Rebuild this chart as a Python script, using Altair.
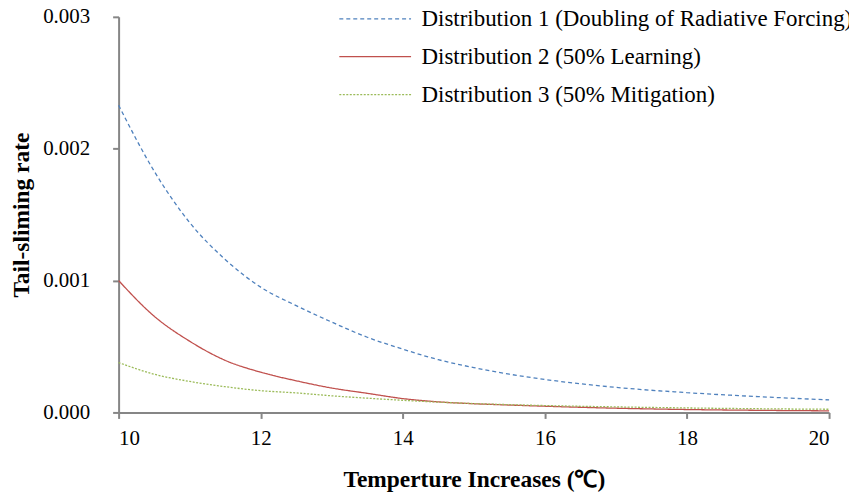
import altair as alt
import pandas as pd

temps = [10, 10.5, 11, 11.5, 12, 12.5, 13, 13.5, 14, 14.5, 15, 15.5, 16, 17, 18, 19, 20]
dist1 = [0.00233, 0.00183, 0.00144, 0.00116, 0.00095, 0.00081, 0.000685, 0.00057, 0.00048,
         0.00040, 0.00034, 0.00029, 0.00025, 0.00019, 0.00015, 0.00012, 0.000095]
dist2 = [0.00100, 0.00073, 0.00054, 0.000395, 0.000305, 0.00024, 0.000185, 0.000145, 0.000105,
         0.000080, 0.000066, 0.000056, 0.000047, 0.000032, 0.000022, 0.000016, 0.000012]
dist3 = [0.000378, 0.00029, 0.000235, 0.000195, 0.000165, 0.000148, 0.000126, 0.000108, 0.000092,
         0.000078, 0.000067, 0.000059, 0.000052, 0.000042, 0.000034, 0.000028, 0.000024]

names = ["Distribution 1 (Doubling of Radiative Forcing)",
         "Distribution 2 (50% Learning)",
         "Distribution 3 (50% Mitigation)"]
colors = ["#4F81BD", "#C0504D", "#9BBB59"]
dashes = [[4, 3], [1, 0], [2, 1.5]]
x_ticks = [10, 12, 14, 16, 18, 20]
y_ticks = [0.000, 0.001, 0.002, 0.003]

rows = []
for name, series in zip(names, [dist1, dist2, dist3]):
    for t, v in zip(temps, series):
        rows.append({"Temperature": t, "Rate": v, "Series": name})
df = pd.DataFrame(rows)

FONT = "Liberation Serif"

chart = alt.Chart(df).mark_line(strokeWidth=1.3, interpolate="monotone").encode(
    x=alt.X("Temperature:Q",
            scale=alt.Scale(domain=[10, 20], nice=False, zero=False),
            axis=alt.Axis(values=x_ticks, format="d", title="Temperture Increases (℃)",
                          labelPadding=9, titlePadding=19, tickSize=6)),
    y=alt.Y("Rate:Q",
            scale=alt.Scale(domain=[0, 0.003], nice=False),
            axis=alt.Axis(values=y_ticks, format=".3f", title="Tail-sliming rate",
                          labelPadding=23, titlePadding=9, tickSize=6)),
    color=alt.Color("Series:N", scale=alt.Scale(domain=names, range=colors),
                    legend=alt.Legend(title=None, orient="none", legendX=246, legendY=-9.5,
                                      direction="vertical", symbolType="M-6,0H6",
                                      symbolSize=144, symbolStrokeWidth=1.3,
                                      labelOffset=35, rowPadding=14, padding=0,
                                      labelFont=FONT, labelFontSize=23, labelColor="#000000",
                                      labelLimit=600)),
    strokeDash=alt.StrokeDash("Series:N", scale=alt.Scale(domain=names, range=dashes),
                              legend=None),
).properties(
    width=713,
    height=397,
    autosize=alt.AutoSizeParams(type="none"),
    padding={"left": 111, "top": 8, "right": 20, "bottom": 84},
).configure_view(
    stroke="transparent"
).configure_axis(
    grid=False,
    domainColor="#868686",
    domainWidth=2,
    tickColor="#868686",
    tickWidth=2,
    labelFont=FONT,
    labelFontSize=21,
    labelColor="#000000",
    titleFont=FONT,
    titleFontSize=23.5,
    titleFontWeight="bold",
    titleColor="#000000",
)

chart.save("out.html", embed_options={"renderer": "svg", "actions": False})
